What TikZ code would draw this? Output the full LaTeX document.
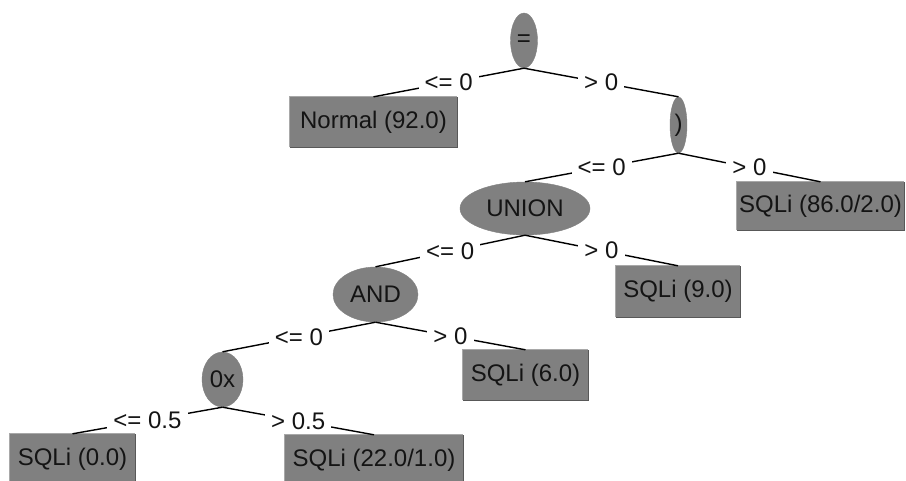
\documentclass[tikz,border=0pt]{standalone}
\usepackage{fontspec}
\setmainfont{Liberation Sans}
\usetikzlibrary{shapes.geometric}
\definecolor{nodegray}{HTML}{808080}
\definecolor{edgelight}{HTML}{A8A8A8}
\definecolor{edgedark}{HTML}{585858}
\definecolor{inkc}{HTML}{141414}
\tikzset{
  every node/.style={font=\fontsize{24}{27}\selectfont, text=inkc},
  splitnode/.style={ellipse, fill=nodegray, draw=nodegray, inner sep=0pt},
  leafbox/.style={rectangle, fill=nodegray, draw=none, inner sep=0pt},
  edgeline/.style={draw=black, line width=1.4pt},
  edgelabel/.style={fill=white, inner xsep=6pt, inner ysep=2pt, midway}
}
\begin{document}
\begin{tikzpicture}[x=1pt, y=-1pt]
\useasboundingbox (0,0) rectangle (906,480);
\fill[white] (0,0) rectangle (906,480);
\clip (0,0) rectangle (906,480);
% split nodes
\node[splitnode, minimum width=27pt, minimum height=55pt] (root) at (524,40.5) {=};
\node[splitnode, minimum width=17pt, minimum height=56pt] (paren) at (678.5,125) {)};
\node[splitnode, minimum width=130pt, minimum height=53pt] (union) at (525,208.5) {UNION};
\node[splitnode, minimum width=85pt, minimum height=55pt] (and) at (375.5,294.5) {AND};
\node[splitnode, minimum width=41pt, minimum height=55pt] (ox) at (222.5,379.5) {0x};
% leaves
\node[leafbox, minimum width=167pt, minimum height=50pt] (n92) at (373.5,122) {Normal (92.0)};
\node[leafbox, minimum width=167pt, minimum height=48pt] (s86) at (820.5,206) {SQLi (86.0/2.0)};
\node[leafbox, minimum width=124pt, minimum height=51pt] (s9) at (678,291.5) {SQLi (9.0)};
\node[leafbox, minimum width=125pt, minimum height=50pt] (s6) at (525.5,375) {SQLi (6.0)};
\node[leafbox, minimum width=125pt, minimum height=50pt] (s0) at (72.5,459) {SQLi (0.0)};
\node[leafbox, minimum width=178pt, minimum height=50pt] (s22) at (374,460) {SQLi (22.0/1.0)};
% raised borders of the leaves
\foreach \b in {n92,s86,s9,s6,s0,s22}{
  \draw[draw=edgelight, line width=1.2pt] (\b.south west) |- (\b.north east);
  \draw[draw=edgedark, line width=1.2pt] (\b.south west) -| (\b.north east);
}
% edges
\draw[edgeline] (root.south) -- (n92.north) node[edgelabel] (l1) {<= 0};
\draw[edgeline] (root.south) -- (paren.north) node[edgelabel] (l2) {> 0};
\draw[edgeline] (paren.south) -- (union.north) node[edgelabel] (l3) {<= 0};
\draw[edgeline] (paren.south) -- (s86.north) node[edgelabel] (l4) {> 0};
\draw[edgeline] (union.south) -- (and.north) node[edgelabel] (l5) {<= 0};
\draw[edgeline] (union.south) -- (s9.north) node[edgelabel] (l6) {> 0};
\draw[edgeline] (and.south) -- (ox.north) node[edgelabel] (l7) {<= 0};
\draw[edgeline] (and.south) -- (s6.north) node[edgelabel] (l8) {> 0};
\draw[edgeline] (ox.south) -- (s0.north) node[edgelabel] (l9) {<= 0.5};
\draw[edgeline] (ox.south) -- (s22.north) node[edgelabel] (l10) {> 0.5};
\end{tikzpicture}
\end{document}
